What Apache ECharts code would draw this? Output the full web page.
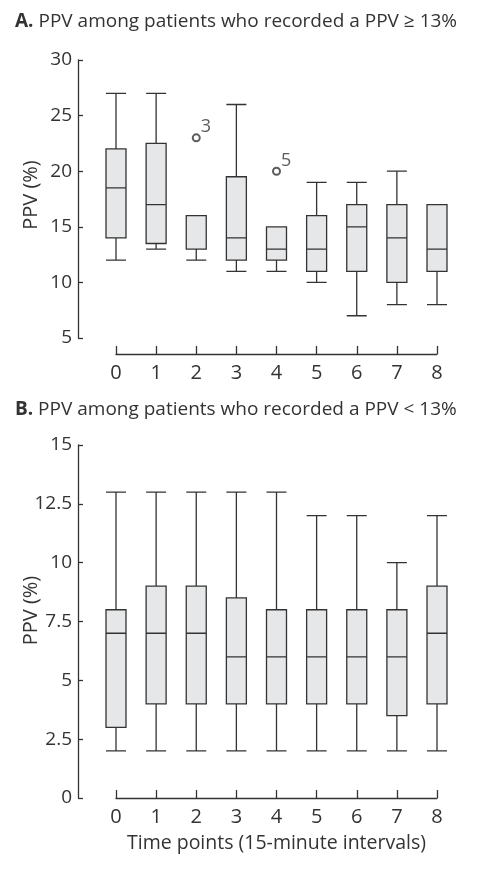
<!DOCTYPE html>
<html>
<head>
<meta charset="utf-8">
<script src="https://cdn.jsdelivr.net/npm/echarts@6/dist/echarts.min.js"></script>
<style>
  html, body { margin: 0; padding: 0; background: #fff; }
  #chart { width: 486px; height: 874px; }
</style>
</head>
<body>
<div id="chart"></div>
<script>
// time points
var categories = ['0', '1', '2', '3', '4', '5', '6', '7', '8'];

// panel A: [min, Q1, median, Q3, max]
var boxA = [
  [12, 14, 18.5, 22, 27],
  [13, 13.5, 17, 22.5, 27],
  [12, 13, 13, 16, 16],
  [11, 12, 14, 19.5, 26],
  [11, 12, 13, 15, 15],
  [10, 11, 13, 16, 19],
  [7, 11, 15, 17, 19],
  [8, 10, 14, 17, 20],
  [8, 11, 13, 17, 17]
];
// outliers: [time point, value, case label]
var outliersA = [
  [2, 23, '3'],
  [4, 20, '5']
];

// panel B
var boxB = [
  [2, 3, 7, 8, 13],
  [2, 4, 7, 9, 13],
  [2, 4, 7, 9, 13],
  [2, 4, 6, 8.5, 13],
  [2, 4, 6, 8, 13],
  [2, 4, 6, 8, 12],
  [2, 4, 6, 8, 12],
  [2, 3.5, 6, 8, 10],
  [2, 4, 7, 9, 12]
];

var titleA = 'PPV among patients who recorded a PPV \u2265 13%';
var titleB = 'PPV among patients who recorded a PPV < 13%';
var yNameA = 'PPV (%)';
var yNameB = 'PPV (%)';
var xNameB = 'Time points (15-minute intervals)';

var ink = '#333';
var font = '"Open Sans", Lato, sans-serif';

var myChart = echarts.init(document.getElementById('chart'));

function xAxisOf(idx, offset, name) {
  return {
    type: 'category',
    gridIndex: idx,
    data: categories,
    boundaryGap: false,
    offset: offset,
    axisLine: { lineStyle: { color: ink, width: 1.3 } },
    axisTick: { inside: true, length: 8, lineStyle: { color: ink, width: 1.3 } },
    axisLabel: { color: ink, fontSize: 20, fontFamily: font, margin: 9 },
    splitLine: { show: false },
    name: name || '',
    nameLocation: 'middle',
    nameGap: 35,
    nameMoveOverlap: false,
    nameTextStyle: { color: ink, fontSize: 19.5, fontFamily: font }
  };
}

function yAxisOf(idx, min, max, interval, name, shift) {
  return {
    type: 'value',
    gridIndex: idx,
    min: min,
    max: max,
    interval: interval,
    offset: 38,
    name: name,
    nameLocation: 'middle',
    nameGap: 37,
    nameMoveOverlap: false,
    nameTextStyle: { color: ink, fontSize: 20, fontFamily: font, padding: [0, 0, 0, shift] },
    axisLine: { show: true, lineStyle: { color: ink, width: 1.3 } },
    axisTick: { show: true, inside: true, length: 5, lineStyle: { color: ink, width: 1.3 } },
    axisLabel: { color: ink, fontSize: 19, fontFamily: font, margin: 6 },
    splitLine: { show: false }
  };
}

var boxStyle = {
  color: '#e6e7e8',
  borderColor: ink,
  borderWidth: 1.3
};

function titleOf(letter, text, top) {
  return {
    text: '{b|' + letter + '} ' + text,
    left: 10,
    top: top,
    textStyle: {
      color: ink, fontSize: 19, fontWeight: 'normal', fontFamily: font,
      rich: { b: { fontWeight: 'bold', fontSize: 19, color: ink, fontFamily: font } }
    }
  };
}

var option = {
  animation: false,
  backgroundColor: '#fff',
  title: [
    titleOf('A.', titleA, 7),
    titleOf('B.', titleB, 395)
  ],
  grid: [
    { left: 116, right: 49, top: 60, bottom: 536, containLabel: false, outerBoundsMode: 'none' },
    { left: 116, right: 49, top: 445, bottom: 76, containLabel: false, outerBoundsMode: 'none' }
  ],
  xAxis: [
    xAxisOf(0, 16),
    xAxisOf(1, 0, xNameB)
  ],
  yAxis: [
    yAxisOf(0, 5, 30, 5, yNameA, 8),
    yAxisOf(1, 0, 15, 2.5, yNameB, 22)
  ],
  series: [
    {
      type: 'boxplot',
      xAxisIndex: 0,
      yAxisIndex: 0,
      data: boxA,
      boxWidth: [20, 20],
      itemStyle: boxStyle
    },
    {
      type: 'scatter',
      xAxisIndex: 0,
      yAxisIndex: 0,
      data: outliersA.map(function (o) { return { value: [o[0], o[1]], name: o[2] }; }),
      symbol: 'emptyCircle',
      symbolSize: 7,
      itemStyle: { color: ink, borderColor: ink, borderWidth: 1.2 },
      label: {
        show: true,
        position: [9, -15],
        formatter: '{b}',
        color: ink,
        fontSize: 18,
        fontFamily: font
      }
    },
    {
      type: 'boxplot',
      xAxisIndex: 1,
      yAxisIndex: 1,
      data: boxB,
      boxWidth: [20, 20],
      itemStyle: boxStyle
    }
  ]
};

myChart.setOption(option);
</script>
</body>
</html>
